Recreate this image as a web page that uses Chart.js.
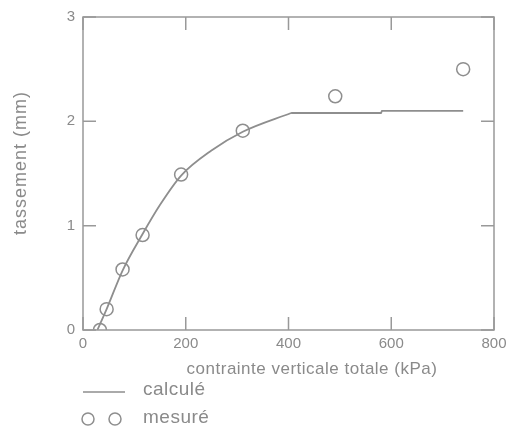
<!DOCTYPE html>
<html>
<head>
<meta charset="utf-8">
<script src="https://cdn.jsdelivr.net/npm/chart.js@4"></script>
<style>
    html, body { margin: 0; padding: 0; background: #fff; }
    #wrap { width: 508px; height: 430px; position: relative; }
</style>
</head>
<body>
<div id="wrap"><canvas id="tassementChart"></canvas></div>
<script>
// contrainte (kPa) / tassement (mm)
const montéeX = [28, 46, 77, 116, 150, 191, 250, 311, 405];
const montéeY = [0, 0.2, 0.57, 0.92, 1.2, 1.48, 1.72, 1.9, 2.08];
const paliersX = [405, 580, 582, 740];
const paliersY = [2.08, 2.08, 2.1, 2.1];
const mesX = [33, 46, 77, 116, 191, 311, 491, 740];
const mesY = [0, 0.2, 0.58, 0.91, 1.49, 1.91, 2.24, 2.5];
const xTicks = [0, 200, 400, 600, 800];
const yTicks = [0, 1, 2, 3];

const gris = '#8e8e8e';
const texte = '#8a8a8a';
const police = '"Liberation Sans", Arial, sans-serif';

function toPoints(xs, ys) {
    return xs.map((x, i) => ({ x: x, y: ys[i] }));
}

// cadre, graduations internes, titres d'axes et légende
const cadrePlugin = {
    id: 'cadre',
    afterDraw(chart) {
        const ctx = chart.ctx;
        const a = chart.chartArea;
        const sx = chart.scales.x;
        const sy = chart.scales.y;
        const tl = 13;
        ctx.save();
        ctx.strokeStyle = '#999';
        ctx.lineWidth = 1.5;
        ctx.strokeRect(a.left, a.top, a.right - a.left, a.bottom - a.top);
        ctx.beginPath();
        xTicks.forEach(v => {
            const px = sx.getPixelForValue(v);
            ctx.moveTo(px, a.bottom); ctx.lineTo(px, a.bottom - tl);
            ctx.moveTo(px, a.top); ctx.lineTo(px, a.top + tl);
        });
        yTicks.forEach(v => {
            const py = sy.getPixelForValue(v);
            ctx.moveTo(a.left, py); ctx.lineTo(a.left + tl, py);
            ctx.moveTo(a.right, py); ctx.lineTo(a.right - tl, py);
        });
        ctx.stroke();

        ctx.fillStyle = texte;
        ctx.textBaseline = 'middle';
        ctx.letterSpacing = '0.5px';
        ctx.font = '17px ' + police;
        ctx.textAlign = 'center';
        ctx.fillText('contrainte verticale totale (kPa)', 312, a.bottom + 39);

        ctx.save();
        ctx.translate(21, 163);
        ctx.rotate(-Math.PI / 2);
        ctx.letterSpacing = '1px';
        ctx.font = '18px ' + police;
        ctx.fillText('tassement (mm)', 0, 0);
        ctx.restore();

        // légende
        ctx.letterSpacing = '0.5px';
        ctx.font = '19px ' + police;
        ctx.textAlign = 'left';
        ctx.strokeStyle = gris;
        ctx.lineWidth = 1.5;
        ctx.beginPath();
        ctx.moveTo(a.left, 392); ctx.lineTo(a.left + 42, 392);
        ctx.stroke();
        ctx.fillText('calculé', 143, 390);
        [88, 115].forEach(cx => {
            ctx.beginPath();
            ctx.arc(cx, 419, 6, 0, Math.PI * 2);
            ctx.stroke();
        });
        ctx.fillText('mesuré', 143, 418);
        ctx.restore();
    }
};

const ctx = document.getElementById('tassementChart').getContext('2d');
const tassementChart = new Chart(ctx, {
    type: 'line',
    data: {
        datasets: [
            {
                label: 'calculé',
                data: toPoints(montéeX, montéeY),
                borderColor: gris,
                borderWidth: 1.8,
                pointRadius: 0,
                fill: false,
                cubicInterpolationMode: 'monotone'
            },
            {
                label: 'calculé (palier)',
                data: toPoints(paliersX, paliersY),
                borderColor: gris,
                borderWidth: 1.8,
                pointRadius: 0,
                fill: false,
                tension: 0
            },
            {
                label: 'mesuré',
                data: toPoints(mesX, mesY),
                showLine: false,
                borderColor: gris,
                backgroundColor: 'rgba(0,0,0,0)',
                borderWidth: 1.5,
                pointRadius: 6.5,
                pointStyle: 'circle'
            }
        ]
    },
    options: {
        responsive: true,
        maintainAspectRatio: false,
        animation: false,
        layout: { padding: { top: 17, right: 14, left: 0, bottom: 0 } },
        scales: {
            x: {
                type: 'linear',
                min: 0,
                max: 800,
                afterFit: s => { s.height = 100; s.paddingRight = 0; },
                afterBuildTicks: s => { s.ticks = xTicks.map(v => ({ value: v })); },
                grid: { display: false, drawTicks: false },
                border: { display: false },
                ticks: { color: texte, padding: 5, font: { size: 15, family: police } }
            },
            y: {
                min: 0,
                max: 3,
                afterFit: s => { s.width = 83; },
                afterBuildTicks: s => { s.ticks = yTicks.map(v => ({ value: v })); },
                grid: { display: false, drawTicks: false },
                border: { display: false },
                ticks: { color: texte, padding: 8, font: { size: 15, family: police } }
            }
        },
        plugins: {
            legend: { display: false },
            tooltip: { enabled: false }
        }
    },
    plugins: [cadrePlugin]
});
</script>
</body>
</html>
